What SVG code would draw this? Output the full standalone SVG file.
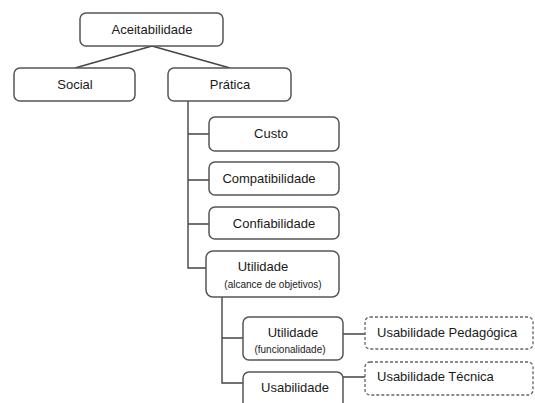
<svg xmlns="http://www.w3.org/2000/svg" width="535" height="403" viewBox="0 0 535 403">
<style>
.n{fill:#fff;stroke:#555;stroke-width:1.5}
.d{fill:#fff;stroke:#666;stroke-width:1.3;stroke-dasharray:3 2}
.c{fill:none;stroke:#444;stroke-width:1.4}
text{font-family:"Liberation Sans",Arial,sans-serif;fill:#1a1a1a;font-size:13px}
.m{text-anchor:middle}
.s{font-size:10px}
</style>
<rect width="535" height="403" fill="#fff"/>
<g id="connectors">
<path class="c" d="M152 46 L75 68 M152 46 L230 68"/>
<path class="c" d="M188 101 V268 H206 M188 134 H209 M188 180 H209 M188 224 H209"/>
<path class="c" d="M222 297 V383 H243 M222 338 H243"/>
<path class="c" d="M343 334 H365 M343 377 H365"/>
</g>
<g id="aceitabilidade"><rect class="n" x="80" y="13" width="143" height="33" rx="6"/><text class="m" x="152" y="34">Aceitabilidade</text></g>
<g id="social"><rect class="n" x="14" y="68" width="121" height="33" rx="6"/><text class="m" x="75" y="89">Social</text></g>
<g id="pratica"><rect class="n" x="168" y="68" width="123" height="33" rx="6"/><text class="m" x="230" y="89">Prática</text></g>
<g id="custo"><rect class="n" x="209" y="117" width="130" height="34" rx="6"/><text class="m" x="271" y="138">Custo</text></g>
<g id="compatibilidade"><rect class="n" x="209" y="162" width="130" height="33" rx="6"/><text class="m" x="269" y="183">Compatibilidade</text></g>
<g id="confiabilidade"><rect class="n" x="209" y="207" width="130" height="32" rx="6"/><text class="m" x="274" y="228">Confiabilidade</text></g>
<g id="utilidade-alcance"><rect class="n" x="206" y="251" width="133" height="46" rx="7"/><text class="m" x="263" y="271">Utilidade</text><text class="m s" x="273" y="288">(alcance de objetivos)</text></g>
<g id="utilidade-func"><rect class="n" x="243" y="317" width="100" height="43" rx="6"/><text class="m" x="293" y="337">Utilidade</text><text class="m s" x="290" y="353">(funcionalidade)</text></g>
<g id="usabilidade"><rect class="n" x="243" y="372" width="100" height="40" rx="6"/><text class="m" x="295" y="392">Usabilidade</text></g>
<g id="usab-pedagogica"><rect class="d" x="365" y="317" width="168" height="32" rx="5"/><text x="377" y="337">Usabilidade Pedagógica</text></g>
<g id="usab-tecnica"><rect class="d" x="365" y="362" width="168" height="33" rx="5"/><text x="377" y="381">Usabilidade Técnica</text></g>
</svg>
